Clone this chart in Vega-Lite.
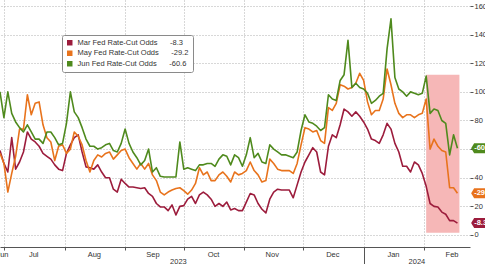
{
  "$schema": "https://vega.github.io/schema/vega-lite/v6.json",
  "width": 470,
  "height": 247,
  "autosize": {"type": "none"},
  "padding": {"left": 0, "top": 0, "right": 15, "bottom": 17},
  "background": "white",
  "datasets": {
    "odds": [
      {"d":"2023-06-29","mar":59,"may":57,"jun":100},
      {"d":"2023-07-01","mar":50,"may":50,"jun":82},
      {"d":"2023-07-03","mar":44,"may":30,"jun":100},
      {"d":"2023-07-05","mar":68,"may":43,"jun":85},
      {"d":"2023-07-07","mar":46,"may":55,"jun":79},
      {"d":"2023-07-09","mar":51,"may":74,"jun":75},
      {"d":"2023-07-11","mar":58,"may":74,"jun":72},
      {"d":"2023-07-13","mar":72,"may":98,"jun":77},
      {"d":"2023-07-15","mar":67,"may":84,"jun":72},
      {"d":"2023-07-17","mar":65,"may":92,"jun":67},
      {"d":"2023-07-19","mar":62,"may":93,"jun":67},
      {"d":"2023-07-21","mar":57,"may":77,"jun":64},
      {"d":"2023-07-23","mar":55,"may":68,"jun":72},
      {"d":"2023-07-25","mar":53,"may":65,"jun":72},
      {"d":"2023-07-27","mar":49,"may":52,"jun":68},
      {"d":"2023-07-29","mar":46,"may":62,"jun":63},
      {"d":"2023-07-31","mar":45,"may":63,"jun":64},
      {"d":"2023-08-02","mar":57,"may":57,"jun":78},
      {"d":"2023-08-04","mar":63,"may":60,"jun":100},
      {"d":"2023-08-06","mar":68,"may":72,"jun":86},
      {"d":"2023-08-08","mar":70,"may":69,"jun":82},
      {"d":"2023-08-10","mar":58,"may":63,"jun":75},
      {"d":"2023-08-12","mar":47.6,"may":52,"jun":67},
      {"d":"2023-08-14","mar":47,"may":44,"jun":62},
      {"d":"2023-08-16","mar":46,"may":52,"jun":62},
      {"d":"2023-08-18","mar":49,"may":56,"jun":60},
      {"d":"2023-08-20","mar":44,"may":54.5,"jun":61},
      {"d":"2023-08-22","mar":40,"may":57,"jun":63},
      {"d":"2023-08-24","mar":40,"may":58,"jun":64},
      {"d":"2023-08-26","mar":32,"may":53,"jun":59},
      {"d":"2023-08-28","mar":30,"may":56,"jun":58},
      {"d":"2023-08-30","mar":39,"may":59,"jun":64},
      {"d":"2023-09-01","mar":36,"may":60,"jun":74},
      {"d":"2023-09-03","mar":33.5,"may":54,"jun":64},
      {"d":"2023-09-05","mar":33.5,"may":50,"jun":58},
      {"d":"2023-09-07","mar":33,"may":46,"jun":54},
      {"d":"2023-09-09","mar":32.5,"may":50,"jun":49},
      {"d":"2023-09-11","mar":33,"may":46,"jun":52},
      {"d":"2023-09-13","mar":29,"may":50,"jun":60},
      {"d":"2023-09-15","mar":27,"may":42,"jun":44},
      {"d":"2023-09-17","mar":22,"may":38,"jun":47},
      {"d":"2023-09-19","mar":19.6,"may":30,"jun":41},
      {"d":"2023-09-21","mar":19.6,"may":28,"jun":40.5},
      {"d":"2023-09-23","mar":17,"may":30,"jun":40.5},
      {"d":"2023-09-25","mar":21,"may":31.4,"jun":40.5},
      {"d":"2023-09-27","mar":14,"may":32.5,"jun":40.5},
      {"d":"2023-09-29","mar":20,"may":33,"jun":65},
      {"d":"2023-10-01","mar":20.5,"may":31,"jun":46},
      {"d":"2023-10-03","mar":25,"may":28.5,"jun":47},
      {"d":"2023-10-05","mar":27,"may":31.4,"jun":46},
      {"d":"2023-10-07","mar":22,"may":36,"jun":45},
      {"d":"2023-10-09","mar":28,"may":47,"jun":49},
      {"d":"2023-10-11","mar":30,"may":42,"jun":49},
      {"d":"2023-10-13","mar":28,"may":44,"jun":50},
      {"d":"2023-10-15","mar":25,"may":38,"jun":50},
      {"d":"2023-10-17","mar":20,"may":38,"jun":48},
      {"d":"2023-10-19","mar":22,"may":42,"jun":53},
      {"d":"2023-10-21","mar":20,"may":44,"jun":56},
      {"d":"2023-10-23","mar":23,"may":41,"jun":55},
      {"d":"2023-10-25","mar":17.5,"may":37,"jun":49},
      {"d":"2023-10-27","mar":18.5,"may":44,"jun":56},
      {"d":"2023-10-29","mar":17,"may":42,"jun":54},
      {"d":"2023-10-31","mar":17,"may":43,"jun":48},
      {"d":"2023-11-02","mar":23,"may":45,"jun":56},
      {"d":"2023-11-04","mar":29,"may":51,"jun":68},
      {"d":"2023-11-06","mar":28,"may":45,"jun":54},
      {"d":"2023-11-08","mar":22,"may":42,"jun":57},
      {"d":"2023-11-10","mar":18,"may":37,"jun":51},
      {"d":"2023-11-12","mar":15.4,"may":38,"jun":50},
      {"d":"2023-11-14","mar":25,"may":53,"jun":63},
      {"d":"2023-11-16","mar":30,"may":50,"jun":60},
      {"d":"2023-11-18","mar":32,"may":46,"jun":58},
      {"d":"2023-11-20","mar":31.4,"may":45,"jun":56},
      {"d":"2023-11-22","mar":31.4,"may":45,"jun":56},
      {"d":"2023-11-24","mar":31.4,"may":45,"jun":55},
      {"d":"2023-11-26","mar":26,"may":43,"jun":54},
      {"d":"2023-11-28","mar":35,"may":50,"jun":58},
      {"d":"2023-11-30","mar":44,"may":63,"jun":73},
      {"d":"2023-12-02","mar":51,"may":75,"jun":84},
      {"d":"2023-12-04","mar":56,"may":74,"jun":79},
      {"d":"2023-12-06","mar":61,"may":72,"jun":78},
      {"d":"2023-12-08","mar":58,"may":73,"jun":76},
      {"d":"2023-12-10","mar":44,"may":66,"jun":73},
      {"d":"2023-12-12","mar":42,"may":64,"jun":75},
      {"d":"2023-12-14","mar":62,"may":89,"jun":98},
      {"d":"2023-12-16","mar":70,"may":87,"jun":95},
      {"d":"2023-12-18","mar":68,"may":92,"jun":94},
      {"d":"2023-12-20","mar":77,"may":105,"jun":108},
      {"d":"2023-12-22","mar":88,"may":104,"jun":112},
      {"d":"2023-12-24","mar":86,"may":102,"jun":136},
      {"d":"2023-12-26","mar":83,"may":103,"jun":103},
      {"d":"2023-12-28","mar":86,"may":106,"jun":106},
      {"d":"2023-12-30","mar":83,"may":113,"jun":103},
      {"d":"2024-01-01","mar":79,"may":108,"jun":102},
      {"d":"2024-01-03","mar":74,"may":93,"jun":99},
      {"d":"2024-01-05","mar":67,"may":84,"jun":92},
      {"d":"2024-01-07","mar":66,"may":87,"jun":94},
      {"d":"2024-01-09","mar":64,"may":87,"jun":97},
      {"d":"2024-01-11","mar":70,"may":95,"jun":99},
      {"d":"2024-01-13","mar":78,"may":116,"jun":130},
      {"d":"2024-01-15","mar":74,"may":105,"jun":151},
      {"d":"2024-01-17","mar":64,"may":92,"jun":110},
      {"d":"2024-01-19","mar":58,"may":85,"jun":102},
      {"d":"2024-01-21","mar":48,"may":82,"jun":100},
      {"d":"2024-01-23","mar":48,"may":84,"jun":97},
      {"d":"2024-01-25","mar":44,"may":84,"jun":100},
      {"d":"2024-01-27","mar":51,"may":82,"jun":99},
      {"d":"2024-01-29","mar":49,"may":84,"jun":98},
      {"d":"2024-01-31","mar":43,"may":85,"jun":99},
      {"d":"2024-02-02","mar":34,"may":95,"jun":111},
      {"d":"2024-02-04","mar":22,"may":60,"jun":85},
      {"d":"2024-02-06","mar":20,"may":67,"jun":88},
      {"d":"2024-02-08","mar":19.5,"may":62,"jun":87},
      {"d":"2024-02-10","mar":16,"may":59,"jun":80},
      {"d":"2024-02-12","mar":14.5,"may":58,"jun":78},
      {"d":"2024-02-14","mar":10,"may":33,"jun":56},
      {"d":"2024-02-16","mar":10,"may":33,"jun":70},
      {"d":"2024-02-18","mar":8.3,"may":29.2,"jun":60.6}
    ],
    "window": [{"start":"2024-02-02","end":"2024-02-19","lo":1.6,"hi":112}],
    "last": [
      {"k":"mar","v":8.3,"t":"-8.3"},
      {"k":"may","v":29.2,"t":"-29.2"},
      {"k":"jun","v":60.6,"t":"-60.6"}
    ]
  },
  "layer": [
    {
      "data": {"name": "window"},
      "mark": {"type": "rect", "color": "#f6b7b7"},
      "encoding": {
        "x": {"field": "start", "type": "temporal",
          "scale": {"type": "utc", "domain": [{"year":2023,"month":6,"date":29,"utc":true},{"year":2024,"month":2,"date":24,"hours":10,"utc":true}]},
          "axis": {"orient": "bottom", "values": [
            {"year":2023,"month":6,"date":30,"utc":true},
            {"year":2023,"month":7,"date":16,"utc":true},
            {"year":2023,"month":8,"date":16,"utc":true},
            {"year":2023,"month":9,"date":15,"utc":true},
            {"year":2023,"month":10,"date":16,"utc":true},
            {"year":2023,"month":11,"date":15,"utc":true},
            {"year":2023,"month":12,"date":16,"utc":true},
            {"year":2024,"month":1,"date":16,"utc":true},
            {"year":2024,"month":2,"date":15,"utc":true}
          ], "format": "%b", "grid": false, "ticks": false, "domain": false, "labelPadding": 3, "labelFlush": false, "labelOverlap": false}},
        "x2": {"field": "end"},
        "y": {"field": "lo", "type": "quantitative",
          "scale": {"domain": [-8.4, 164.2], "nice": false, "zero": false},
          "axis": {"orient": "right", "values": [0,20,40,60,80,100,120,140,160], "tickSize": 3, "labelPadding": 1, "labelOverlap": false, "labelFlush": false, "domain": false, "grid": true}},
        "y2": {"field": "hi"}
      }
    },
    {
      "data": {"name": "odds"},
      "transform": [{"fold": ["mar", "may", "jun"], "as": ["k", "v"]}],
      "mark": {"type": "line", "strokeWidth": 1.6, "strokeJoin": "round"},
      "encoding": {
        "x": {"field": "d", "type": "temporal",
          "axis": {"orient": "bottom", "values": [
            {"year":2023,"month":7,"date":1,"utc":true},
            {"year":2023,"month":8,"date":1,"utc":true},
            {"year":2023,"month":9,"date":1,"utc":true},
            {"year":2023,"month":10,"date":1,"utc":true},
            {"year":2023,"month":11,"date":1,"utc":true},
            {"year":2023,"month":12,"date":1,"utc":true},
            {"year":2024,"month":1,"date":1,"utc":true},
            {"year":2024,"month":2,"date":1,"utc":true}
          ], "labels": false, "grid": true, "ticks": true, "tickSize": 3, "domain": true}},
        "y": {"field": "v", "type": "quantitative",
          "axis": {"orient": "right", "values": [0,20,40,60,80,100,120,140,160], "tickSize": 3, "labelPadding": 1, "labelOverlap": false, "labelFlush": false, "domain": false, "grid": true}},
        "color": {"field": "k", "type": "nominal",
          "scale": {"domain": ["mar", "may", "jun"], "range": ["#9c1c3c", "#e8731c", "#4f8a1d"]},
          "legend": {
            "orient": "none", "legendX": 62, "legendY": 35, "title": null,
            "labelExpr": "datum.label == 'mar' ? 'Mar Fed Rate-Cut Odds\u00a0\u00a0\u00a0\u00a0\u00a0\u00a0-8.3' : datum.label == 'may' ? 'May Fed Rate-Cut Odds\u00a0\u00a0\u00a0\u00a0\u00a0\u00a0-29.2' : 'Jun Fed Rate-Cut Odds\u00a0\u00a0\u00a0\u00a0\u00a0\u00a0-60.6'"
          }}
      }
    },
    {
      "data": {"name": "last"},
      "mark": {"type": "point", "filled": true, "opacity": 1, "size": 100, "shape": "M0,0 L0.6,-1 L3.4,-1 L3.4,1 L0.6,1 Z", "strokeWidth": 0},
      "encoding": {
        "x": {"datum": {"year":2024,"month":2,"date":25,"utc":true}, "type": "temporal",
          "axis": {"orient": "bottom", "values": [
            {"year":2023,"month":9,"date":28,"utc":true},
            {"year":2024,"month":1,"date":28,"utc":true}
          ], "format": "%Y", "grid": false, "ticks": false, "domain": false, "labelPadding": 10, "labelFlush": false}},
        "y": {"field": "v", "type": "quantitative",
          "axis": {"orient": "right", "values": [0,20,40,60,80,100,120,140,160], "tickSize": 3, "labelPadding": 1, "labelOverlap": false, "labelFlush": false, "domain": false, "grid": true}},
        "color": {"field": "k", "type": "nominal", "legend": null}
      }
    },
    {
      "data": {"name": "last"},
      "mark": {"type": "text", "color": "white", "align": "left", "baseline": "middle", "dx": 3, "fontSize": 7.5, "fontWeight": "bold"},
      "encoding": {
        "x": {"datum": {"year":2024,"month":2,"date":25,"utc":true}, "type": "temporal",
          "axis": {"orient": "bottom", "values": [{"year":2024,"month":1,"date":1,"utc":true}], "labels": false, "grid": false, "ticks": true, "tickSize": 18, "domain": false}},
        "y": {"field": "v", "type": "quantitative",
          "axis": {"orient": "right", "values": [0,20,40,60,80,100,120,140,160], "tickSize": 3, "labelPadding": 1, "labelOverlap": false, "labelFlush": false, "domain": false, "grid": true}},
        "text": {"field": "t"}
      }
    }
  ],
  "resolve": {"axis": {"x": "independent"}},
  "config": {
    "view": {"stroke": null},
    "font": "Liberation Sans Narrow, Liberation Sans, sans-serif",
    "axis": {
      "title": null,
      "labelFont": "Liberation Sans Narrow, Liberation Sans, sans-serif",
      "labelFontSize": 7.5,
      "labelColor": "#333333",
      "gridColor": "#b0b0b0",
      "gridDash": [1, 2],
      "gridWidth": 1,
      "tickColor": "#555555",
      "domainColor": "#555555"
    },
    "legend": {
      "symbolType": "square",
      "symbolSize": 30,
      "symbolStrokeWidth": 0,
      "labelFont": "Liberation Sans Narrow, Liberation Sans, sans-serif",
      "labelFontSize": 7.5,
      "labelColor": "#333333",
      "labelOffset": 4,
      "labelLimit": 200,
      "rowPadding": 1.5,
      "padding": 4,
      "strokeColor": "#8a8a8a",
      "fillColor": "white",
      "cornerRadius": 2
    }
  }
}
